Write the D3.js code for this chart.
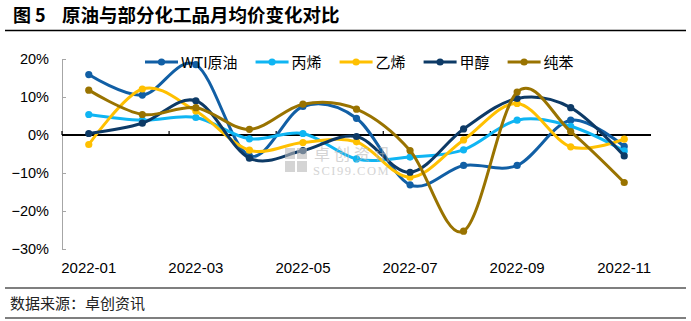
<!DOCTYPE html>
<html><head><meta charset="utf-8">
<script src="https://cdn.jsdelivr.net/npm/d3@7"></script>
<style>
html,body{margin:0;padding:0;background:#fff;}
svg{display:block;}
</style></head>
<body>
<svg id="chart" width="691" height="321"></svg>
<script>
const months = ["2022-01","2022-02","2022-03","2022-04","2022-05","2022-06","2022-07","2022-08","2022-09","2022-10","2022-11"];
const seriesNames = ["WTI原油","丙烯","乙烯","甲醇","纯苯"];
const wti   = [15.9, 10.5, 18.5, -5.5, 7.5, 4.4, -13.1, -8.0, -8.0, 3.9, -3.0];
const bingxi= [5.4, 3.9, 4.6, -1.0, 0.4, -6.3, -5.8, -3.9, 3.9, 2.3, -4.2];
const yixi  = [-2.5, 12.1, 6.3, -4.0, -2.0, -1.8, -11.1, -1.3, 8.3, -3.1, -1.1];
const jiachun=[0.4, 3.1, 9.0, -6.1, -4.1, -0.4, -9.8, 1.6, 9.6, 7.2, -5.5];
const chunben=[11.8, 5.4, 7.2, 1.5, 8.1, 6.8, -4.1, -25.3, 11.3, 0.9, -12.5];
const yTicks = [20, 10, 0, -10, -20, -30];
const xLabelMonths = ["2022-01","2022-03","2022-05","2022-07","2022-09","2022-11"];

const colors = ["#115FA5","#0FB5F3","#FFC000","#0D3A66","#997300"];
const seriesData = [wti, bingxi, yixi, jiachun, chunben];

const svg = d3.select("#chart");
const cjk = "'Noto Sans CJK SC','Noto Sans',sans-serif";
const latin = "'Liberation Sans',Arial,sans-serif";

// Title
svg.append("text").attr("x", 13).attr("y", 22).text("图 5")
  .style("font-family", cjk).style("font-size", "18px").style("font-weight", "bold").attr("fill", "#000");
svg.append("text").attr("x", 62).attr("y", 22).text("原油与部分化工品月均价变化对比")
  .style("font-family", cjk).style("font-size", "18.5px").style("font-weight", "bold").attr("fill", "#000");
svg.append("line").attr("x1", 5).attr("x2", 686).attr("y1", 30.5).attr("y2", 30.5).attr("stroke", "#000").attr("stroke-width", 1.5);

// Footer
svg.append("line").attr("x1", 5).attr("x2", 686).attr("y1", 288).attr("y2", 288).attr("stroke", "#000").attr("stroke-width", 1.2);
svg.append("text").attr("x", 10).attr("y", 309).text("数据来源：卓创资讯")
  .style("font-family", cjk).style("font-size", "15px").attr("fill", "#222");
svg.append("line").attr("x1", 5).attr("x2", 686).attr("y1", 318).attr("y2", 318).attr("stroke", "#000").attr("stroke-width", 1.2);

// Scales
const x = d3.scaleBand().domain(months).range([62, 651]).paddingInner(0).paddingOuter(0);
const bw = x.bandwidth();
const cx = m => x(m) + bw / 2;
const y = d3.scaleLinear().domain([-30, 20]).range([249, 59]);

// Y axis (gray, inward ticks)
const yAxis = d3.axisLeft(y).tickValues(yTicks).tickSizeInner(-4).tickSizeOuter(0).tickPadding(13)
  .tickFormat(d => (d < 0 ? "\u2212" + Math.abs(d) : d) + "%");
const yg = svg.append("g").attr("transform", "translate(62,0)").call(yAxis);
yg.select(".domain").attr("stroke", "#a6a6a6");
yg.selectAll(".tick line").attr("stroke", "#a6a6a6");
yg.selectAll(".tick text").style("font-family", latin).style("font-size", "14.5px").attr("fill", "#000");

// X labels at bottom
const xAxis = d3.axisBottom(x).tickValues(xLabelMonths).tickSize(0).tickPadding(13);
const xg = svg.append("g").attr("transform", "translate(0,249)").call(xAxis);
xg.select(".domain").remove();
xg.selectAll(".tick text").style("font-family", latin).style("font-size", "15px").attr("fill", "#000");

// Zero line with ticks every 2 categories
const zeroBounds = months.filter((m, i) => i % 2 === 0).map(m => x(m));
const zg = svg.append("g").attr("transform", `translate(0,${y(0)})`);
zg.append("line").attr("x1", 62).attr("x2", 651).attr("stroke", "#000").attr("stroke-width", 2);
zg.selectAll("line.t").data(zeroBounds).join("line").attr("class", "t")
  .attr("x1", d => d).attr("x2", d => d).attr("y1", 0).attr("y2", -4).attr("stroke", "#000").attr("stroke-width", 1.2);

// Lines
const line = d3.line().x((d, i) => cx(months[i])).y(d => y(d)).curve(d3.curveCardinal.tension(0));
seriesData.forEach((vals, s) => {
  const g = svg.append("g");
  g.append("path").attr("d", line(vals)).attr("fill", "none")
    .attr("stroke", colors[s]).attr("stroke-width", 3).attr("stroke-linejoin", "round").attr("stroke-linecap", "round");
  g.selectAll("circle").data(vals).join("circle")
    .attr("cx", (d, i) => cx(months[i])).attr("cy", d => y(d)).attr("r", 3.6).attr("fill", colors[s]);
});

// Watermark (drawn over lines, semi-transparent)
const wm = svg.append("g").attr("opacity", 0.6);
[[285,148],[297,148],[285,161],[297,161]].forEach(([a,b]) =>
  wm.append("rect").attr("x", a).attr("y", b).attr("width", 10).attr("height", 11).attr("fill", "#b8b8b8"));
wm.append("text").attr("x", 314).attr("y", 160).text("卓创资讯")
  .style("font-family", cjk).style("font-size", "16px").style("letter-spacing", "4px").attr("fill", "#b8b8b8");
wm.append("text").attr("x", 313).attr("y", 175).text("SCI99.COM")
  .style("font-family", "'Liberation Serif',serif").style("font-size", "12.5px").style("letter-spacing", "1.5px").attr("fill", "#b8b8b8");

// Legend
let lx = 145;
const ly = 62;
seriesNames.forEach((name, s) => {
  const g = svg.append("g");
  g.append("line").attr("x1", lx).attr("x2", lx + 33).attr("y1", ly).attr("y2", ly)
    .attr("stroke", colors[s]).attr("stroke-width", 3);
  g.append("circle").attr("cx", lx + 16.5).attr("cy", ly).attr("r", 3.6).attr("fill", colors[s]);
  const t = g.append("text").attr("x", lx + 36).attr("y", ly + 5.5).text(name)
    .style("font-family", cjk).style("font-size", "15px").attr("fill", "#000");
  lx += 36 + t.node().getComputedTextLength() + 18;
});
</script>
</body></html>
